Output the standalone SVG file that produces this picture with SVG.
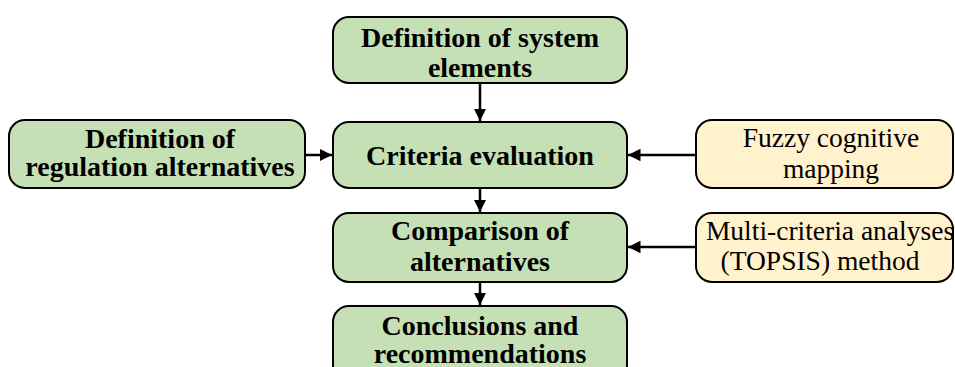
<svg xmlns="http://www.w3.org/2000/svg" width="955" height="367" viewBox="0 0 955 367">
<style>
.g{fill:#c5e0b4;stroke:#000;stroke-width:2}
.y{fill:#fff2cc;stroke:#000;stroke-width:2}
.tb{font-family:"Liberation Serif","Times New Roman",serif;font-weight:bold;font-size:28px;text-anchor:middle;fill:#000}
.tr{font-family:"Liberation Serif","Times New Roman",serif;font-size:27.5px;text-anchor:middle;fill:#000}
.c{stroke:#000;stroke-width:2.5;fill:none;marker-end:url(#ah)}
</style>
<defs>
<marker id="ah" viewBox="0 0 10 10" refX="10" refY="5" markerWidth="5" markerHeight="5" orient="auto" markerUnits="strokeWidth">
<path d="M0,0 L10,5 L0,10 z" fill="#000"/>
</marker>
</defs>
<g id="n1"><rect class="g" x="333" y="17" width="294" height="66" rx="16"/>
<text class="tb" x="480" y="47">Definition of system</text><text class="tb" x="480" y="77">elements</text></g>
<g id="n2"><rect class="g" x="333" y="122" width="294" height="66" rx="16"/>
<text class="tb" x="480" y="165">Criteria evaluation</text></g>
<g id="n3"><rect class="g" x="9" y="120" width="296" height="68" rx="16"/>
<text class="tb" x="160" y="148">Definition of</text><text class="tb" x="160" y="176">regulation alternatives</text></g>
<g id="n4"><rect class="y" x="696" y="120" width="257" height="68" rx="16"/>
<text class="tr" x="831" y="147">Fuzzy cognitive</text><text class="tr" x="831" y="178">mapping</text></g>
<g id="n5"><rect class="g" x="333" y="213" width="294" height="69" rx="16"/>
<text class="tb" x="480" y="240">Comparison of</text><text class="tb" x="480" y="271">alternatives</text></g>
<g id="n6"><rect class="y" x="696" y="213" width="257" height="69" rx="16"/>
<text class="tr" x="830" y="240">Multi-criteria analyses</text><text class="tr" x="820" y="270">(TOPSIS) method</text></g>
<g id="n7"><rect class="g" x="333" y="306" width="294" height="75" rx="16"/>
<text class="tb" x="480" y="335">Conclusions and</text><text class="tb" x="480" y="363">recommendations</text></g>
<g id="connectors">
<line class="c" x1="480" y1="83" x2="480" y2="121"/>
<line class="c" x1="305" y1="155" x2="332" y2="155"/>
<line class="c" x1="696" y1="155" x2="628" y2="155"/>
<line class="c" x1="480" y1="188" x2="480" y2="212"/>
<line class="c" x1="696" y1="247" x2="628" y2="247"/>
<line class="c" x1="480" y1="282" x2="480" y2="305"/>
</g>
</svg>
